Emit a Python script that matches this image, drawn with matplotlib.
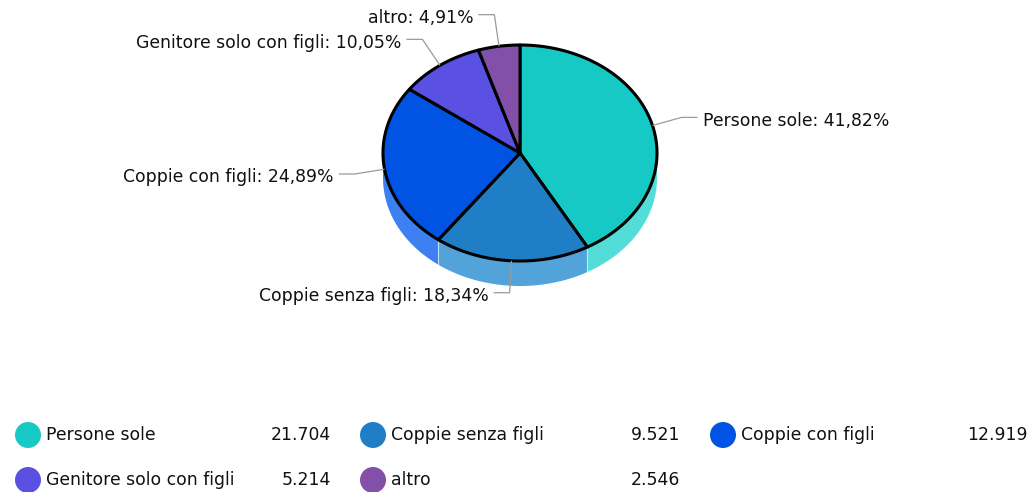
import numpy as np
import matplotlib.pyplot as plt
from matplotlib.patches import Polygon, Circle

CATEGORIES = ["Persone sole", "Coppie senza figli", "Coppie con figli",
              "Genitore solo con figli", "altro"]
VALUES = [21704, 9521, 12919, 5214, 2546]
COLORS = ["#17C9C4", "#1F7EC5", "#0153E4", "#5A50E2", "#8250A8"]
SIDE_COLORS = ["#52DDD8", "#52A3DA", "#3D80F1", "#7C74EA", "#9C74BC"]

W, H = 1030, 492
CX, CY = 520, 153
RX, RY = 137, 108
DEPTH = 25
FONT = 12.4


def fmt_int(v):
    return f"{v:,}".replace(",", ".")


def edge(phi, dy=0.0):
    r = np.radians(phi)
    return CX + RX * np.cos(r), CY - RY * np.sin(r) + dy


def main():
    fig = plt.figure(figsize=(W / 100, H / 100), dpi=100)
    ax = fig.add_axes([0, 0, 1, 1])
    ax.set_xlim(0, W)
    ax.set_ylim(H, 0)
    ax.axis("off")

    values = np.array(VALUES, dtype=float)
    fracs = values / values.sum()
    bounds = np.concatenate([[0], np.cumsum(fracs)])
    # clockwise from the top
    starts = 90 - bounds[:-1] * 360
    ends = 90 - bounds[1:] * 360

    # side walls, front half only
    for s, e, col in zip(starts, ends, SIDE_COLORS):
        lo_c, hi_c = max(e, -180), min(s, 0)
        if lo_c >= hi_c:
            continue
        phis = np.linspace(hi_c, lo_c, 80)
        top = [edge(p) for p in phis]
        bot = [edge(p, DEPTH) for p in phis[::-1]]
        ax.add_patch(Polygon(top + bot, closed=True, facecolor=col,
                             edgecolor="none", zorder=1))
        for p in (hi_c, lo_c):
            if -180 < p < 0:
                x0, y0 = edge(p)
                ax.plot([x0, x0], [y0, y0 + DEPTH], color="white",
                        lw=0.8, alpha=0.35, zorder=1.5)

    # top faces
    for s, e, col in zip(starts, ends, COLORS):
        phis = np.linspace(s, e, 120)
        pts = [(CX, CY)] + [edge(p) for p in phis]
        ax.add_patch(Polygon(pts, closed=True, facecolor=col,
                             edgecolor="black", linewidth=2.2,
                             joinstyle="round", zorder=2))

    # labels with leader lines
    for cat, frac, s, e in zip(CATEGORIES, fracs, starts, ends):
        mid = (s + e) / 2
        r = np.radians(mid)
        ex, ey = edge(mid)
        ux, uy = np.cos(r), -np.sin(r)
        kx, ky = ex + ux * 30, ey + uy * 32
        side = 1 if ux >= 0 else -1
        hx = kx + side * 16
        ax.plot([ex, kx, hx], [ey, ky, ky], color="#9a9a9a", lw=0.9,
                zorder=3, solid_capstyle="butt")
        txt = f"{cat}: {frac * 100:.2f}%".replace(".", ",")
        ax.text(hx + side * 5, ky + 3.5, txt,
                ha="left" if side > 0 else "right",
                va="center", fontsize=FONT, color="#111111", zorder=4)

    # legend
    col_x = [28, 373, 723]
    val_x = [331, 680, 1028]
    row_y = [435, 480]
    for i, (cat, v, col) in enumerate(zip(CATEGORIES, VALUES, COLORS)):
        row, c = divmod(i, 3)
        x, y = col_x[c], row_y[row]
        ax.add_patch(Circle((x, y), 13, facecolor=col, edgecolor="none"))
        ax.text(x + 18, y, cat, ha="left", va="center", fontsize=FONT,
                color="#111111")
        ax.text(val_x[c], y, fmt_int(v), ha="right", va="center",
                fontsize=FONT, color="#111111")

    fig.savefig("out.png", dpi=100)
    plt.close(fig)


if __name__ == "__main__":
    main()
